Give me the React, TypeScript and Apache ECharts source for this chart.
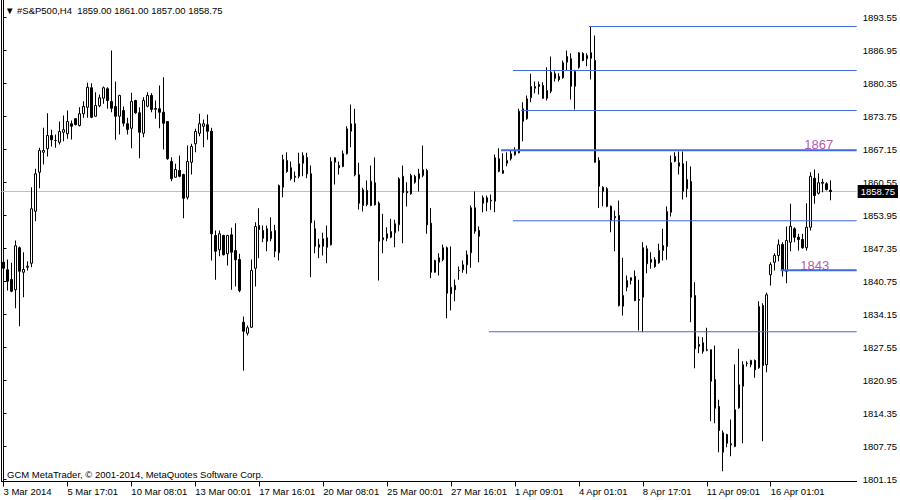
import React, { useEffect, useRef } from "react";
import * as echarts from "echarts";

// H4 candles, 3 Mar 2014 -> 17 Apr 2014
const open = [
  1844.6, 1843.1, 1841.15, 1839.1, 1847.5, 1842.6, 1843.6, 1844.4, 1854.8, 1862.6,
  1866.6, 1867.3, 1869.95, 1868.95, 1868.6, 1870.6, 1870.3, 1872.3, 1873.3, 1871.95,
  1874.3, 1875.6, 1879.5, 1873.8, 1875.9, 1877.4, 1879.3, 1876.75, 1875.75, 1873.8,
  1874.95, 1872.3, 1871.4, 1876.95, 1874.5, 1870.4, 1875.8, 1877.95, 1875.35, 1875.3,
  1874.6, 1872.75, 1864.75, 1861.6, 1862.95, 1862.15, 1857.6, 1864.6, 1868.3, 1870.4,
  1871.8, 1872.1, 1870.8, 1849.95, 1847.1, 1849.95, 1846.3, 1850.1, 1846.95, 1845.15,
  1832.6, 1830.4, 1831.6, 1843.4, 1851.95, 1850.95, 1851.3, 1849.3, 1850.95, 1846.5,
  1859.6, 1864.95, 1863.5, 1861.8, 1861.8, 1864.4, 1865.55, 1862.3, 1851.3, 1847.6,
  1847.8, 1849.5, 1848.1, 1864.6, 1863.95, 1863.75, 1866.3, 1870.8, 1872.3, 1862.1,
  1855.95, 1858.95, 1855.95, 1860.5, 1856.4, 1849.1, 1850.3, 1849.6, 1850.5, 1852.1,
  1861.8, 1858.75, 1858.3, 1861.75, 1861.3, 1861.95, 1862.95, 1852.4, 1842.6, 1844.6,
  1845.1, 1847.5, 1838.3, 1839.95, 1842.9, 1843.1, 1844.1, 1846.5, 1855.5, 1850.95,
  1856.4, 1857.5, 1857.0, 1856.8, 1865.3, 1862.95, 1864.4, 1865.3, 1866.1, 1866.5,
  1875.3, 1873.3, 1877.5, 1879.4, 1879.75, 1879.95, 1877.4, 1878.8, 1882.3, 1881.75,
  1881.5, 1884.6, 1885.3, 1879.8, 1883.6, 1886.35, 1885.3, 1886.5, 1884.95, 1864.95,
  1859.6, 1859.3, 1855.8, 1853.75, 1853.95, 1835.8, 1839.6, 1840.95, 1841.75, 1837.15,
  1837.6, 1847.3, 1844.6, 1845.1, 1844.5, 1846.95, 1847.75, 1854.6, 1865.75, 1863.8,
  1864.3, 1859.3, 1860.75, 1837.95, 1828.15, 1828.5, 1827.1, 1827.1, 1821.15, 1815.75,
  1806.6, 1810.15, 1808.3, 1807.75, 1815.5, 1819.8, 1824.4, 1824.1, 1824.95, 1823.5,
  1835.95, 1824.1, 1842.1, 1844.6, 1845.95, 1848.15, 1842.8, 1848.6, 1851.3, 1849.6,
  1849.15, 1847.5, 1851.6, 1861.4, 1858.4, 1860.4, 1860.3, 1859.0,
];
const high = [
  1844.95, 1845.15, 1844.5, 1848.95, 1847.75, 1846.6, 1844.8, 1859.6, 1863.3, 1867.5,
  1871.5, 1874.4, 1871.1, 1870.15, 1872.75, 1873.95, 1874.95, 1872.95, 1873.4, 1875.6,
  1876.8, 1880.5, 1880.4, 1878.6, 1878.15, 1879.75, 1879.6, 1886.95, 1880.75, 1878.1,
  1875.75, 1873.5, 1878.5, 1877.1, 1875.6, 1877.6, 1878.6, 1878.4, 1876.95, 1879.95,
  1881.6, 1872.8, 1865.6, 1864.3, 1865.95, 1862.3, 1867.95, 1868.3, 1871.3, 1874.3,
  1873.15, 1874.15, 1871.5, 1850.95, 1850.95, 1850.1, 1850.1, 1851.5, 1852.4, 1846.3,
  1833.75, 1831.95, 1845.15, 1852.6, 1855.4, 1851.95, 1851.95, 1853.6, 1852.1, 1860.15,
  1866.1, 1866.6, 1864.75, 1862.75, 1866.5, 1866.6, 1866.5, 1863.95, 1852.95, 1849.3,
  1850.5, 1851.95, 1865.6, 1865.6, 1864.75, 1866.95, 1871.8, 1876.15, 1875.3, 1864.5,
  1859.5, 1860.95, 1863.95, 1865.55, 1856.75, 1854.3, 1851.6, 1853.3, 1853.1, 1861.6,
  1863.95, 1860.6, 1862.3, 1862.1, 1863.3, 1867.95, 1863.3, 1855.45, 1845.1, 1846.4,
  1848.15, 1847.75, 1847.75, 1841.15, 1843.75, 1844.95, 1846.95, 1855.95, 1858.75, 1851.75,
  1857.95, 1857.95, 1858.15, 1866.15, 1867.4, 1866.4, 1866.6, 1866.95, 1867.6, 1875.3,
  1876.6, 1877.95, 1882.3, 1880.75, 1880.75, 1880.6, 1883.6, 1885.75, 1882.8, 1882.4,
  1884.95, 1886.95, 1886.4, 1883.1, 1886.6, 1886.6, 1886.4, 1891.75, 1889.95, 1865.6,
  1859.8, 1859.6, 1855.95, 1854.95, 1856.95, 1845.5, 1841.95, 1841.6, 1842.95, 1841.1,
  1848.6, 1847.95, 1846.6, 1845.6, 1848.3, 1851.3, 1855.75, 1865.95, 1866.6, 1866.75,
  1866.75, 1864.8, 1863.75, 1840.6, 1829.75, 1829.6, 1831.5, 1827.15, 1827.95, 1817.1,
  1810.95, 1810.3, 1813.15, 1824.15, 1827.3, 1824.8, 1824.8, 1825.1, 1825.15, 1836.8,
  1836.4, 1838.5, 1844.6, 1846.4, 1849.15, 1848.6, 1851.75, 1856.3, 1851.6, 1850.3,
  1850.3, 1856.4, 1862.6, 1863.15, 1862.4, 1861.3, 1860.6, 1861.0,
];
const low = [
  1835.95, 1838.95, 1838.6, 1835.4, 1831.8, 1837.6, 1842.95, 1843.6, 1852.8, 1859.4,
  1864.15, 1865.75, 1867.75, 1867.5, 1868.15, 1868.8, 1869.3, 1869.15, 1871.95, 1871.75,
  1873.5, 1873.5, 1873.4, 1873.75, 1875.6, 1876.3, 1875.3, 1874.6, 1869.1, 1870.15,
  1871.75, 1870.15, 1867.4, 1874.3, 1865.4, 1869.6, 1875.6, 1874.6, 1873.3, 1871.4,
  1867.15, 1865.1, 1860.8, 1861.5, 1861.6, 1853.4, 1857.15, 1862.15, 1866.6, 1869.8,
  1867.6, 1869.1, 1844.95, 1841.1, 1845.8, 1845.95, 1843.95, 1839.1, 1839.75, 1838.6,
  1822.95, 1829.95, 1831.5, 1839.75, 1845.4, 1848.6, 1846.8, 1848.8, 1845.6, 1844.95,
  1857.6, 1862.5, 1860.95, 1860.6, 1861.4, 1861.8, 1861.4, 1841.6, 1846.4, 1845.4,
  1845.95, 1844.4, 1847.95, 1860.15, 1862.15, 1863.6, 1866.15, 1867.6, 1861.8, 1855.15,
  1854.75, 1855.8, 1855.8, 1855.95, 1840.95, 1846.4, 1848.8, 1849.4, 1847.6, 1850.8,
  1848.4, 1855.75, 1858.1, 1860.3, 1858.75, 1861.6, 1850.3, 1841.4, 1842.5, 1841.95,
  1844.8, 1833.4, 1834.95, 1836.8, 1841.1, 1842.5, 1842.3, 1843.5, 1850.3, 1844.6,
  1854.6, 1854.8, 1855.1, 1854.6, 1862.6, 1862.3, 1863.8, 1864.95, 1865.95, 1866.4,
  1868.8, 1873.1, 1876.6, 1878.4, 1878.15, 1877.3, 1876.95, 1878.4, 1880.75, 1880.75,
  1881.3, 1882.95, 1877.15, 1875.15, 1883.3, 1884.8, 1883.8, 1881.15, 1864.5, 1855.45,
  1855.8, 1855.6, 1850.6, 1846.8, 1835.75, 1833.95, 1838.8, 1840.15, 1836.8, 1830.95,
  1830.6, 1842.4, 1843.3, 1843.5, 1844.3, 1844.95, 1845.1, 1853.75, 1864.6, 1862.15,
  1857.15, 1857.6, 1832.6, 1823.4, 1826.4, 1826.3, 1826.8, 1812.8, 1812.4, 1806.6,
  1802.8, 1807.6, 1805.8, 1807.6, 1815.3, 1808.4, 1823.75, 1823.6, 1821.5, 1823.3,
  1808.8, 1822.6, 1839.95, 1842.95, 1844.8, 1841.75, 1840.4, 1846.8, 1848.6, 1846.95,
  1847.3, 1846.95, 1850.95, 1856.3, 1858.15, 1858.6, 1858.95, 1857.0,
];
const close = [
  1843.4, 1840.8, 1838.8, 1847.9, 1842.8, 1843.15, 1843.8, 1855.3, 1862.3, 1866.95,
  1866.95, 1869.95, 1869.1, 1868.95, 1870.75, 1871.1, 1872.75, 1871.8, 1872.15, 1874.3,
  1875.75, 1879.6, 1873.6, 1875.95, 1877.5, 1879.5, 1876.95, 1875.4, 1873.8, 1877.95,
  1872.4, 1871.15, 1876.75, 1874.5, 1870.6, 1876.95, 1877.95, 1875.15, 1875.2, 1874.6,
  1872.4, 1865.3, 1861.3, 1863.15, 1861.8, 1857.4, 1864.75, 1867.75, 1870.75, 1872.3,
  1872.3, 1870.8, 1850.3, 1846.8, 1850.3, 1846.1, 1849.95, 1846.6, 1845.1, 1838.95,
  1830.8, 1831.5, 1842.95, 1851.75, 1851.15, 1849.4, 1848.8, 1850.75, 1846.8, 1859.95,
  1865.15, 1862.75, 1861.3, 1861.6, 1864.3, 1865.95, 1862.3, 1852.5, 1847.8, 1848.15,
  1849.3, 1847.6, 1864.75, 1865.5, 1863.5, 1866.3, 1871.3, 1872.3, 1862.1, 1856.4,
  1859.1, 1856.15, 1860.8, 1856.1, 1848.8, 1849.5, 1849.4, 1850.75, 1852.3, 1861.3,
  1858.5, 1858.5, 1861.95, 1860.6, 1862.3, 1863.1, 1852.1, 1842.6, 1844.95, 1845.5,
  1847.5, 1838.4, 1839.6, 1839.1, 1843.0, 1844.1, 1846.1, 1855.5, 1850.8, 1849.8,
  1857.5, 1856.6, 1856.9, 1865.5, 1862.8, 1862.4, 1864.95, 1866.3, 1866.8, 1874.8,
  1872.8, 1877.3, 1879.75, 1879.75, 1880.15, 1877.4, 1878.95, 1882.6, 1881.4, 1881.15,
  1884.5, 1885.75, 1879.8, 1882.75, 1886.5, 1884.95, 1885.95, 1885.4, 1864.6, 1859.8,
  1858.8, 1855.8, 1852.95, 1853.5, 1835.95, 1837.95, 1840.95, 1841.5, 1836.95, 1837.0,
  1847.5, 1844.3, 1845.15, 1843.75, 1846.95, 1847.95, 1854.75, 1864.5, 1864.8, 1864.5,
  1858.8, 1861.15, 1837.6, 1827.3, 1827.8, 1826.8, 1827.0, 1820.8, 1815.4, 1810.95,
  1810.5, 1808.4, 1808.1, 1815.1, 1820.1, 1824.1, 1824.35, 1824.95, 1823.1, 1835.75,
  1823.95, 1838.1, 1844.15, 1845.95, 1848.1, 1842.95, 1848.95, 1851.8, 1849.6, 1849.15,
  1847.5, 1851.6, 1861.8, 1857.95, 1860.5, 1860.6, 1859.15, 1858.75,
];

const timeLabels = [
  "3 Mar 2014", "5 Mar 17:01", "10 Mar 08:01", "13 Mar 00:01", "17 Mar 16:01",
  "20 Mar 08:01", "25 Mar 00:01", "27 Mar 16:01", "1 Apr 09:01", "4 Apr 01:01",
  "8 Apr 17:01", "11 Apr 09:01", "16 Apr 01:01",
];
const labelStep = 16;
const shiftBars = 6;

const priceTicks = [
  1893.55, 1886.95, 1880.35, 1873.75, 1867.15, 1860.55, 1853.95, 1847.35,
  1840.75, 1834.15, 1827.55, 1820.95, 1814.35, 1807.75, 1801.15,
];
const priceMin = 1800.75;
const priceMax = 1896.95;

// horizontal level lines: price, first bar index, thickness
const levelPrices = [1891.75, 1882.95, 1874.95, 1867.0, 1852.9, 1830.7, 1843.0];
const levelStarts = [147, 128, 130, 125, 128, 122, 195];
const levelWidths = [1, 1, 1, 2, 1, 1, 2];

// text notes
const noteTexts = ["1867", "1843"];
const noteBars = [204, 203];
const notePrices = [1868.2, 1844.0];

const FONT = "'Liberation Sans', Arial, sans-serif";

export default function App() {
  const ref = useRef<HTMLDivElement>(null);

  useEffect(() => {
    if (!ref.current) return;
    const chart = echarts.init(ref.current, undefined, { renderer: "svg" });
    const n = open.length;
    const N = n + shiftBars;
    const cats = Array.from({ length: N }, (_, i) => String(i));
    const candles = open.map((o, i) => [o, close[i], low[i], high[i]]);
    const last = n - 1;
    const lastPrice = close[last];
    const showTick = (i: number) => i % labelStep === 0 && i / labelStep < timeLabels.length;

    const levelSeries = levelPrices.map((p, k) => ({
      type: "line",
      xAxisIndex: 1,
      yAxisIndex: 0,
      data: [
        [levelStarts[k] - 0.5, p],
        [N - 0.5, p],
      ],
      symbol: "none",
      silent: true,
      z: 5,
      lineStyle: { color: "#4169E1", width: levelWidths[k] },
    }));

    const option: any = {
      animation: false,
      backgroundColor: "#ffffff",
      textStyle: { fontFamily: FONT },
      title: [
        {
          text: `\u25BC #S&P500,H4  ${open[last].toFixed(2)} ${high[last].toFixed(2)} ${low[last].toFixed(2)} ${close[last].toFixed(2)}`,
          left: 5,
          top: 5,
          padding: 0,
          textStyle: { fontFamily: FONT, fontSize: 9.5, fontWeight: "normal", color: "#000" },
        },
        {
          text: "GCM MetaTrader, \u00A9 2001-2014, MetaQuotes Software Corp.",
          left: 7,
          top: 469,
          padding: 0,
          textStyle: { fontFamily: FONT, fontSize: 9.5, fontWeight: "normal", color: "#000" },
        },
      ],
      grid: { left: 1.5, top: 0.5, width: 856, height: 481, containLabel: false },
      xAxis: [
        {
          type: "category",
          data: cats,
          boundaryGap: true,
          axisLine: { show: true, lineStyle: { color: "#000", width: 1 } },
          axisTick: {
            show: true,
            interval: (i: number) => showTick(i),
            alignWithLabel: true,
            length: 5,
            lineStyle: { color: "#000" },
          },
          axisLabel: {
            interval: (i: number) => showTick(i),
            formatter: (_v: string, i: number) => timeLabels[i / labelStep] ?? "",
            align: "left",
            color: "#000",
            fontFamily: FONT,
            fontSize: 9.5,
            margin: 5,
          },
          splitLine: { show: false },
        },
        {
          type: "value",
          min: -0.5,
          max: N - 0.5,
          show: false,
        },
      ],
      yAxis: [
        {
          type: "value",
          position: "right",
          min: priceMin,
          max: priceMax,
          axisLine: { show: true, lineStyle: { color: "#000" } },
          axisTick: { show: true, customValues: priceTicks, length: 3, lineStyle: { color: "#000" } },
          axisLabel: {
            customValues: priceTicks,
            formatter: (v: number) => v.toFixed(2),
            color: "#000",
            fontFamily: FONT,
            fontSize: 9.5,
            margin: 6,
          },
          splitLine: { show: false },
        },
        {
          type: "value",
          position: "left",
          min: priceMin,
          max: priceMax,
          axisLine: { show: true, lineStyle: { color: "#000" } },
          axisTick: { show: false },
          axisLabel: { show: false },
          splitLine: { show: false },
        },
      ],
      series: [
        {
          type: "candlestick",
          xAxisIndex: 0,
          yAxisIndex: 0,
          data: candles,
          barWidth: 2,
          z: 3,
          itemStyle: {
            color: "#ffffff",
            color0: "#000000",
            borderColor: "#000000",
            borderColor0: "#000000",
            borderWidth: 1,
          },
          markLine: {
            silent: true,
            symbol: ["none", "none"],
            z: 1,
            data: [
              {
                yAxis: lastPrice,
                lineStyle: { color: "#C0C0C0", width: 1, type: "solid" },
                label: {
                  show: true,
                  position: "end",
                  formatter: lastPrice.toFixed(2),
                  backgroundColor: "#000",
                  color: "#fff",
                  fontFamily: FONT,
                  fontSize: 9.5,
                  padding: [2, 3, 1, 3],
                  distance: 1,
                },
              },
            ],
          },
        },
        ...levelSeries,
        {
          type: "scatter",
          xAxisIndex: 1,
          yAxisIndex: 0,
          symbolSize: 0,
          silent: true,
          z: 6,
          data: noteTexts.map((t, k) => ({ name: t, value: [noteBars[k], notePrices[k]] })),
          label: {
            show: true,
            position: "inside",
            formatter: "{b}",
            color: "#9B2D9B",
            fontFamily: FONT,
            fontSize: 13,
          },
        },
      ],
    };
    chart.setOption(option);
    return () => chart.dispose();
  }, []);

  return (
    <div
      ref={ref}
      style={{ position: "fixed", left: 0, top: 0, width: 900, height: 500, background: "#fff" }}
    />
  );
}
